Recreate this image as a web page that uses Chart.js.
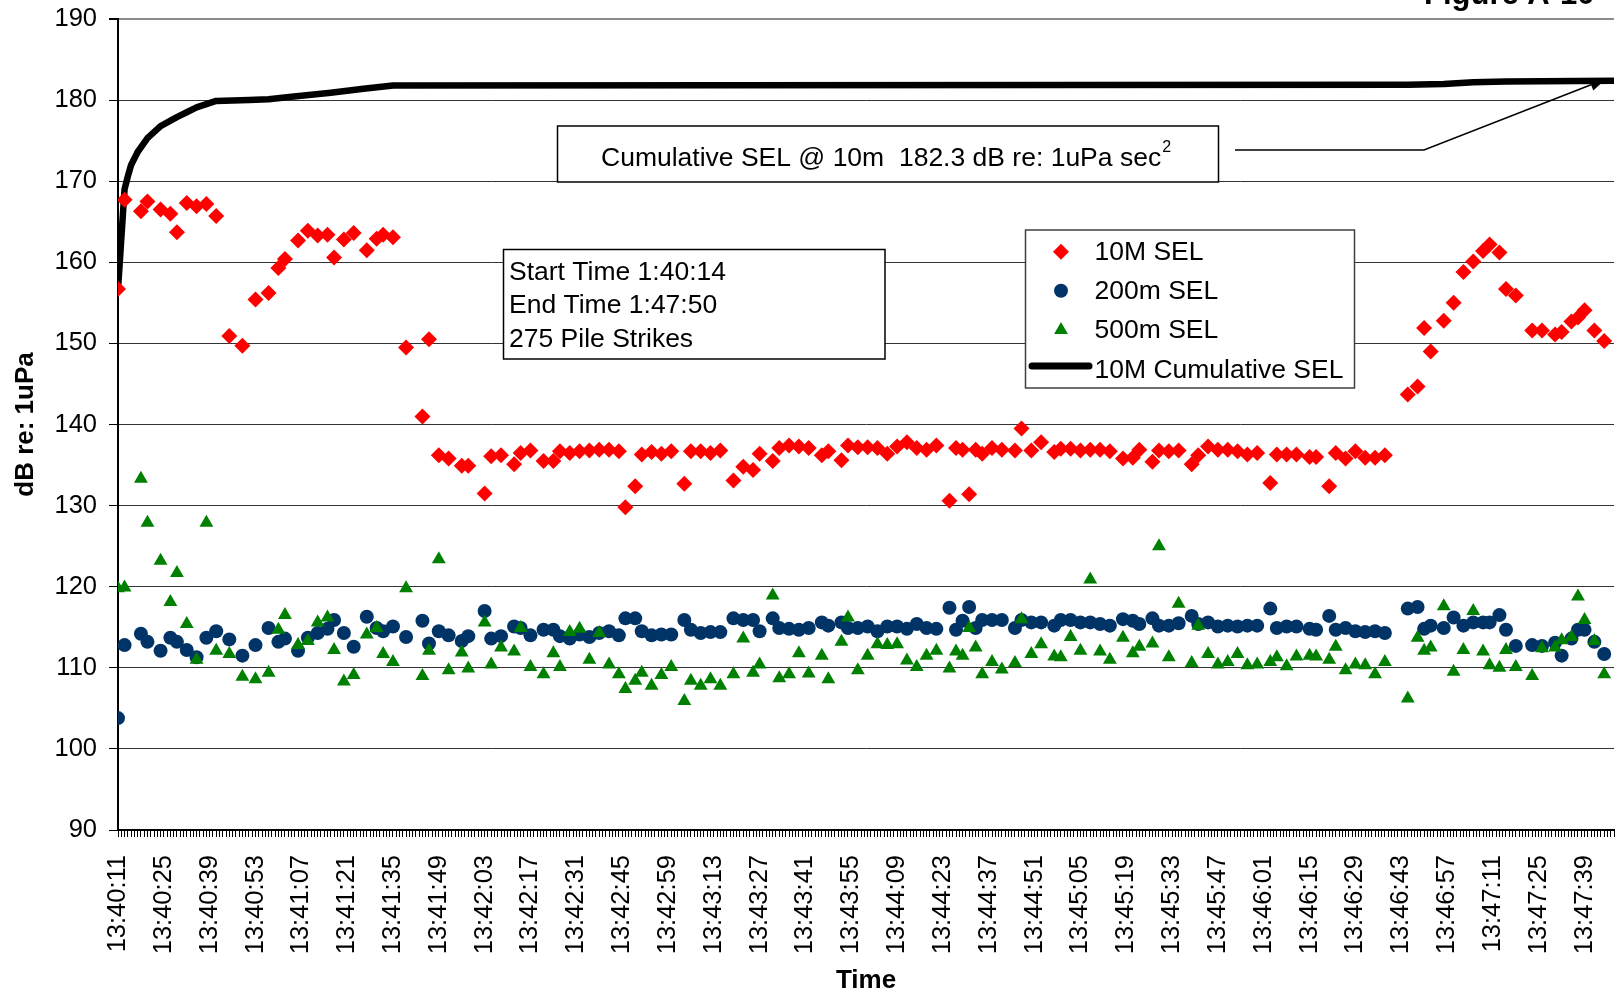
<!DOCTYPE html>
<html>
<head>
<meta charset="utf-8">
<title>Pile strike SEL</title>
<script src="https://cdn.jsdelivr.net/npm/chart.js@4.4.1/dist/chart.umd.min.js"></script>
<style>
  html, body { margin: 0; padding: 0; background: #fff; overflow: hidden; }
  #selChart { display: block; }
</style>
</head>
<body>
<canvas id="selChart" width="1622" height="995"></canvas>
<script>
// Tiempo de cada golpe de pilote
const strikeTimes = [
  '13:40:11','13:40:13','13:40:18','13:40:20','13:40:24','13:40:27','13:40:29','13:40:32','13:40:35','13:40:38',
  '13:40:41','13:40:45','13:40:49','13:40:53','13:40:57','13:41:00','13:41:02','13:41:06','13:41:09','13:41:12',
  '13:41:15','13:41:17','13:41:20','13:41:23','13:41:27','13:41:30','13:41:32','13:41:35','13:41:39','13:41:44',
  '13:41:46','13:41:49','13:41:52','13:41:56','13:41:58','13:42:03','13:42:05','13:42:08','13:42:12','13:42:14',
  '13:42:17','13:42:21','13:42:24','13:42:26','13:42:29','13:42:32','13:42:35',
  '13:42:38','13:42:41','13:42:44','13:42:46','13:42:49','13:42:51','13:42:54','13:42:57','13:43:00','13:43:04',
  '13:43:06','13:43:09','13:43:12','13:43:15','13:43:19','13:43:22','13:43:25','13:43:27','13:43:31','13:43:33',
  '13:43:36','13:43:39','13:43:42','13:43:46','13:43:48','13:43:52','13:43:54','13:43:57','13:44:00','13:44:03',
  '13:44:06','13:44:09','13:44:12','13:44:15','13:44:18','13:44:21','13:44:25','13:44:27','13:44:29','13:44:31',
  '13:44:33','13:44:35','13:44:38','13:44:41','13:44:45','13:44:47','13:44:50','13:44:53','13:44:57','13:44:59',
  '13:45:02','13:45:05','13:45:08',
  '13:45:11','13:45:14','13:45:18','13:45:21','13:45:23','13:45:27','13:45:29','13:45:32','13:45:35','13:45:39',
  '13:45:41','13:45:44','13:45:47','13:45:50','13:45:53','13:45:56','13:45:59','13:46:03','13:46:05','13:46:08',
  '13:46:11','13:46:15','13:46:17','13:46:21','13:46:23','13:46:26','13:46:29','13:46:32','13:46:35','13:46:38',
  '13:46:45','13:46:48','13:46:50','13:46:52','13:46:56','13:46:59','13:47:02','13:47:05','13:47:08','13:47:10',
  '13:47:13','13:47:15','13:47:18','13:47:23','13:47:26','13:47:30','13:47:32','13:47:35','13:47:37','13:47:39',
  '13:47:42','13:47:45'
];

// SEL a 10 m (dB)
const sel10m = [
  156.7,167.7,166.3,167.5,166.5,166.0,163.7,167.3,166.9,167.2,
  165.7,150.9,149.7,155.4,156.2,159.3,160.4,162.7,163.9,163.3,
  163.4,160.6,162.8,163.6,161.5,162.9,163.4,163.1,149.5,141.0,
  150.5,136.2,135.8,134.9,134.9,131.5,136.1,136.2,135.1,136.5,
  136.8,135.5,135.5,136.7,136.5,136.7,136.8,
  136.9,136.9,136.7,129.8,132.4,136.3,136.6,136.4,136.7,132.7,
  136.7,136.7,136.5,136.8,133.1,134.8,134.4,136.4,135.5,137.1,
  137.4,137.3,137.1,136.2,136.7,135.6,137.4,137.2,137.2,137.1,
  136.4,137.3,137.8,137.1,136.9,137.4,130.6,137.1,136.9,131.4,
  136.9,136.4,137.1,136.9,136.8,139.5,136.8,137.8,136.6,137.0,
  137.0,136.8,136.9,
  136.9,136.7,135.8,135.9,136.9,135.4,136.8,136.7,136.8,135.1,
  136.2,137.3,136.9,136.9,136.7,136.3,136.5,132.8,136.3,136.3,
  136.3,136.0,136.0,132.4,136.5,135.8,136.7,135.9,135.9,136.2,
  143.7,144.7,151.9,149.0,152.8,155.0,158.8,160.1,161.4,162.2,
  161.2,156.7,155.9,151.6,151.6,151.1,151.4,152.7,153.2,154.1,
  151.6,150.3
];

// SEL a 200 m (dB)
const sel200m = [
  103.8,112.8,114.2,113.2,112.1,113.7,113.2,112.2,111.3,113.7,
  114.5,113.5,111.5,112.8,114.9,113.2,113.6,112.1,113.7,114.3,
  114.8,115.9,114.3,112.6,116.3,114.9,114.5,115.1,113.8,115.8,
  113.0,114.5,114.0,113.3,113.9,117.0,113.6,113.9,115.1,114.9,
  114.0,114.7,114.7,113.9,113.6,114.1,113.8,
  114.3,114.5,114.0,116.1,116.1,114.5,114.0,114.1,114.1,115.9,
  114.7,114.3,114.4,114.4,116.1,115.9,115.9,114.5,116.1,114.9,
  114.8,114.7,114.9,115.6,115.2,115.6,114.9,114.9,115.1,114.5,
  115.1,115.1,114.8,115.4,114.9,114.8,117.4,114.7,115.8,117.5,
  114.9,115.9,115.9,115.9,114.9,115.9,115.6,115.6,115.2,115.9,
  115.9,115.6,115.6,
  115.4,115.2,116.0,115.8,115.4,116.1,115.2,115.2,115.5,116.4,
  115.4,115.6,115.1,115.2,115.1,115.2,115.2,117.3,114.9,115.1,
  115.1,114.8,114.7,116.4,114.7,114.9,114.5,114.4,114.5,114.3,
  117.3,117.5,114.8,115.2,114.9,116.2,115.2,115.6,115.6,115.6,
  116.5,114.7,112.7,112.8,112.7,113.1,111.5,113.6,114.7,114.7,
  113.2,111.7
];

// SEL a 500 m (dB)
const sel500m = [
  119.8,119.9,133.3,127.9,123.2,118.1,121.7,115.4,111.0,127.9,
  112.1,111.7,108.9,108.6,109.4,114.7,116.5,112.8,113.3,115.6,
  116.2,112.2,108.3,109.1,114.1,114.9,111.7,110.7,119.8,109.0,
  112.1,123.4,109.7,111.9,109.9,115.6,110.4,112.5,112.0,114.9,
  110.1,109.2,111.8,110.1,114.4,114.8,111.0,
  114.3,110.4,109.2,107.4,108.4,109.4,107.8,109.1,110.1,105.9,
  108.4,107.8,108.6,107.8,109.2,113.6,109.4,110.4,118.9,108.7,
  109.2,111.8,109.3,111.5,108.6,113.2,116.2,109.7,111.5,112.9,
  112.8,112.9,110.9,110.1,111.5,112.1,109.9,112.0,111.5,114.9,
  112.5,109.2,110.7,109.8,110.6,116.0,111.7,112.9,111.4,111.3,
  113.8,112.1,120.9,
  112.0,111.0,113.7,111.8,112.6,113.0,125.0,111.3,117.9,110.6,
  115.2,111.7,110.4,110.7,111.7,110.3,110.4,110.7,111.3,110.2,
  111.4,111.5,111.4,111.0,112.6,109.7,110.4,110.3,109.2,110.7,
  106.2,113.7,112.1,112.5,117.6,109.5,112.2,117.0,112.0,110.3,
  110.0,112.2,110.1,109.0,112.4,112.5,113.4,113.8,118.8,115.9,
  113.3,109.2
];

// SEL acumulado a 10 m
const cumTimes = [
  '13:40:11','13:40:13','13:40:14','13:40:15','13:40:17','13:40:20','13:40:24','13:40:29','13:40:32','13:40:35',
  '13:40:41','13:40:51','13:40:57','13:41:04','13:41:16','13:41:26','13:41:35','13:46:45','13:46:56','13:47:05',
  '13:47:15','13:47:48'
];
const cumSel = [
  156.7,169.0,170.6,172.0,173.6,175.3,176.8,177.9,178.5,179.1,
  179.9,180.0,180.1,180.4,180.9,181.4,181.8,181.9,182.0,182.2,
  182.3,182.4
];

const yTicks = [90, 100, 110, 120, 130, 140, 150, 160, 170, 180, 190];

const FONT = "'Liberation Sans', Arial, sans-serif";

function toSec(s) {
  const p = s.split(':').map(Number);
  return p[0] * 3600 + p[1] * 60 + p[2];
}
function fmtTime(sec) {
  const h = Math.floor(sec / 3600);
  const m = Math.floor((sec % 3600) / 60);
  const s = sec % 60;
  return h + ':' + String(m).padStart(2, '0') + ':' + String(s).padStart(2, '0');
}

const t0 = toSec(strikeTimes[0]);
const labelEvery = 14; // etiqueta cada 14 s

function toPoints(times, values) {
  return times.map(function (t, i) { return { x: toSec(t) - t0, y: values[i] }; });
}

// Cuadros de texto, flecha y leyenda dibujados encima del grafico
const notas = {
  id: 'notas',
  afterDraw(chart) {
    const ctx = chart.ctx;
    ctx.save();

    ctx.fillStyle = '#000';
    ctx.font = 'bold 31px ' + FONT;
    ctx.textAlign = 'left';
    ctx.textBaseline = 'alphabetic';
    ctx.fillText('Figure A-10', 1424, 4);

    // cuadro del SEL acumulado
    ctx.fillStyle = '#fff';
    ctx.fillRect(557.5, 126, 661, 56);
    ctx.strokeStyle = '#000';
    ctx.lineWidth = 1.5;
    ctx.strokeRect(557.5, 126, 661, 56);
    ctx.fillStyle = '#000';
    ctx.font = '26.5px ' + FONT;
    const txt = 'Cumulative SEL @ 10m  182.3 dB re: 1uPa sec';
    ctx.fillText(txt, 601, 166);
    const w = ctx.measureText(txt).width;
    ctx.font = '16px ' + FONT;
    ctx.fillText('2', 601 + w + 1, 152);

    // linea guia con flecha
    ctx.beginPath();
    ctx.moveTo(1235, 150);
    ctx.lineTo(1424, 150);
    const tipX = 1606, tipY = 79;
    const ang = Math.atan2(tipY - 150, tipX - 1424);
    const bx = tipX - 16 * Math.cos(ang), by = tipY - 16 * Math.sin(ang);
    ctx.lineTo(bx, by);
    ctx.lineWidth = 1.5;
    ctx.stroke();
    ctx.beginPath();
    ctx.moveTo(tipX, tipY);
    ctx.lineTo(bx + 6 * Math.sin(ang), by - 6 * Math.cos(ang));
    ctx.lineTo(bx - 6 * Math.sin(ang), by + 6 * Math.cos(ang));
    ctx.closePath();
    ctx.fill();

    // cuadro de inicio/fin
    ctx.fillStyle = '#fff';
    ctx.fillRect(503.5, 249.5, 381.5, 109.5);
    ctx.strokeRect(503.5, 249.5, 381.5, 109.5);
    ctx.fillStyle = '#000';
    ctx.font = '26.5px ' + FONT;
    ctx.fillText('Start Time 1:40:14', 509, 279.5);
    ctx.fillText('End Time 1:47:50', 509, 313);
    ctx.fillText('275 Pile Strikes', 509, 346.5);

    // leyenda
    ctx.fillStyle = '#fff';
    ctx.fillRect(1025.5, 230, 329, 158);
    ctx.strokeStyle = '#404040';
    ctx.strokeRect(1025.5, 230, 329, 158);

    const mx = 1061;
    ctx.fillStyle = '#ff0000';
    ctx.beginPath();
    ctx.moveTo(mx, 251.7 - 8); ctx.lineTo(mx + 8, 251.7);
    ctx.lineTo(mx, 251.7 + 8); ctx.lineTo(mx - 8, 251.7);
    ctx.closePath(); ctx.fill();

    ctx.fillStyle = '#003366';
    ctx.beginPath();
    ctx.arc(mx, 290.7, 7, 0, Math.PI * 2);
    ctx.fill();

    ctx.fillStyle = '#008000';
    ctx.beginPath();
    ctx.moveTo(mx, 330 - 8);
    ctx.lineTo(mx + 6.9, 330 + 4);
    ctx.lineTo(mx - 6.9, 330 + 4);
    ctx.closePath(); ctx.fill();

    ctx.strokeStyle = '#000';
    ctx.lineWidth = 7;
    ctx.lineCap = 'round';
    ctx.beginPath();
    ctx.moveTo(1032, 366);
    ctx.lineTo(1089, 366);
    ctx.stroke();

    ctx.fillStyle = '#000';
    ctx.font = '26.5px ' + FONT;
    ctx.fillText('10M SEL', 1094.5, 260);
    ctx.fillText('200m SEL', 1094.5, 299);
    ctx.fillText('500m SEL', 1094.5, 338.3);
    ctx.fillText('10M Cumulative SEL', 1094.5, 377.7);

    ctx.restore();
  }
};

const chart = new Chart(document.getElementById('selChart'), {
  type: 'scatter',
  data: {
    datasets: [
      {
        label: '10M SEL',
        data: toPoints(strikeTimes, sel10m),
        pointStyle: 'rectRot',
        pointRadius: 8,
        pointBorderWidth: 0,
        backgroundColor: '#ff0000',
        borderColor: '#ff0000',
        order: 1
      },
      {
        label: '200m SEL',
        data: toPoints(strikeTimes, sel200m),
        pointStyle: 'circle',
        pointRadius: 7,
        pointBorderWidth: 0,
        backgroundColor: '#003366',
        borderColor: '#003366',
        order: 2
      },
      {
        label: '500m SEL',
        data: toPoints(strikeTimes, sel500m),
        pointStyle: 'triangle',
        pointRadius: 8,
        pointBorderWidth: 0,
        backgroundColor: '#008000',
        borderColor: '#008000',
        order: 0
      },
      {
        type: 'line',
        label: '10M Cumulative SEL',
        data: toPoints(cumTimes, cumSel),
        showLine: true,
        borderColor: '#000',
        borderWidth: 6.5,
        borderJoinStyle: 'round',
        pointRadius: 0,
        tension: 0,
        fill: false,
        order: 3
      }
    ]
  },
  options: {
    responsive: false,
    animation: false,
    devicePixelRatio: 1,
    layout: { padding: { top: 19, right: 0, bottom: 0, left: 0 } },
    plugins: {
      legend: { display: false },
      tooltip: { enabled: false }
    },
    scales: {
      x: {
        type: 'linear',
        min: 0,
        max: 457,
        afterFit: function (scale) {
          scale.height = 165;
          scale.paddingLeft = 0;
          scale.paddingRight = 0;
        },
        ticks: {
          stepSize: 1,
          autoSkip: false,
          minRotation: 90,
          maxRotation: 90,
          padding: 18,
          color: '#000',
          font: { family: FONT, size: 25.5 },
          callback: function (value) {
            return value % labelEvery === 0 ? fmtTime(t0 + value) : '';
          }
        },
        grid: { drawOnChartArea: false, drawTicks: true, tickLength: 7, color: '#000', lineWidth: 1 },
        border: { color: '#000', width: 2 },
        title: {
          display: true,
          text: 'Time',
          color: '#000',
          font: { family: FONT, size: 26, weight: 'bold', lineHeight: 1.1 },
          padding: { top: 0, bottom: 0 }
        }
      },
      y: {
        min: yTicks[0],
        max: yTicks[yTicks.length - 1],
        afterFit: function (scale) {
          scale.width = 118;
          scale.paddingTop = 0;
          scale.paddingBottom = 0;
        },
        afterBuildTicks: function (scale) {
          scale.ticks = yTicks.map(function (v) { return { value: v }; });
        },
        ticks: {
          padding: 12,
          color: '#000',
          font: { family: FONT, size: 25.5 }
        },
        grid: {
          color: function (c) { return c.tick && c.tick.value === 190 ? '#8c8c8c' : '#333'; },
          lineWidth: function (c) { return c.tick && c.tick.value === 190 ? 2 : 1; },
          tickColor: '#000',
          tickLength: 9
        },
        border: { color: '#000', width: 2 },
        title: {
          display: true,
          text: 'dB re: 1uPa',
          color: '#000',
          font: { family: FONT, size: 26, weight: 'bold', lineHeight: 1.1 },
          padding: { top: 11.7, bottom: 0 }
        }
      }
    }
  },
  plugins: [notas]
});
</script>
</body>
</html>
